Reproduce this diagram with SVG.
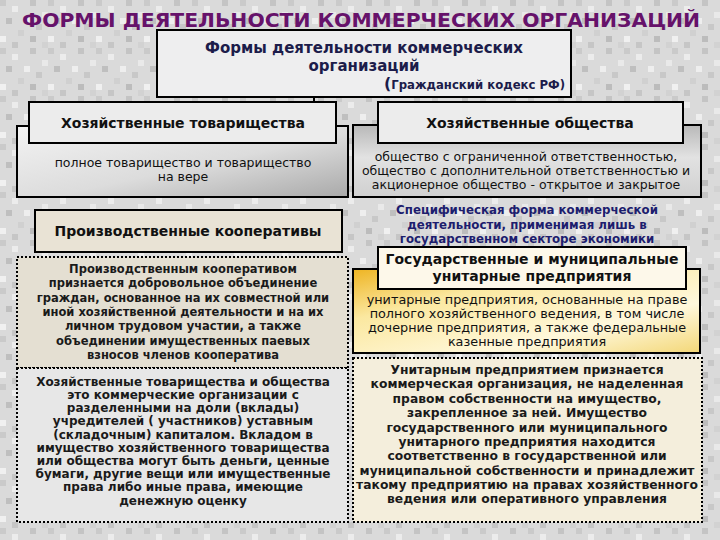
<svg xmlns="http://www.w3.org/2000/svg" width="720" height="540" viewBox="0 0 720 540">
<defs>
<pattern id="granite" x="0" y="0" width="48" height="48" patternUnits="userSpaceOnUse">
<rect width="48" height="48" fill="#dadada"/>
<rect x="0" y="0" width="6" height="6" fill="#cacaca"/>
<rect x="12" y="6" width="6" height="6" fill="#ececec"/>
<rect x="30" y="0" width="6" height="6" fill="#c4c4c4"/>
<rect x="42" y="12" width="6" height="6" fill="#e9e9e9"/>
<rect x="6" y="18" width="6" height="6" fill="#bfbfbf"/>
<rect x="24" y="18" width="6" height="6" fill="#eeeeee"/>
<rect x="36" y="24" width="6" height="6" fill="#c8c8c8"/>
<rect x="18" y="30" width="6" height="6" fill="#d0d0d0"/>
<rect x="0" y="36" width="6" height="6" fill="#f0f0f0"/>
<rect x="30" y="36" width="6" height="6" fill="#bcbcbc"/>
<rect x="42" y="42" width="6" height="6" fill="#d2d2d2"/>
<rect x="12" y="42" width="6" height="6" fill="#c6c6c6"/>
</pattern>
<linearGradient id="grayGrad" x1="0" y1="0" x2="1" y2="1">
<stop offset="0" stop-color="#f3f3f3"/>
<stop offset="0.55" stop-color="#dcdcdc"/>
<stop offset="1" stop-color="#a9a9a9"/>
</linearGradient>
<linearGradient id="grayGrad2" x1="0" y1="0" x2="0" y2="1">
<stop offset="0" stop-color="#b8b8b8"/>
<stop offset="0.45" stop-color="#e2e2e2"/>
<stop offset="1" stop-color="#d0d0d0"/>
</linearGradient>
<linearGradient id="yellowGrad" x1="0" y1="0" x2="1" y2="1">
<stop offset="0" stop-color="#eeb422"/>
<stop offset="0.3" stop-color="#fbe8a0"/>
<stop offset="0.7" stop-color="#fff8dc"/>
<stop offset="1" stop-color="#f3d777"/>
</linearGradient>
</defs>
<style>
.title{font-family:"DejaVu Sans",Verdana,sans-serif;font-weight:bold;font-size:20px;fill:#66126a;text-anchor:middle}
.hd{font-family:"DejaVu Sans",Verdana,sans-serif;font-weight:bold;font-size:14px;fill:#111;text-anchor:middle}
.top{font-family:"DejaVu Sans",Verdana,sans-serif;font-weight:bold;font-size:15px;fill:#1c1c4a;text-anchor:middle}
.tx{font-family:"DejaVu Sans",Verdana,sans-serif;font-weight:bold;font-size:11.5px;fill:#1a1a1a;text-anchor:middle}
.tx2{font-family:"DejaVu Sans",Verdana,sans-serif;font-weight:bold;font-size:12px;fill:#1a1a1a;text-anchor:middle}
.tx3{font-family:"DejaVu Sans",Verdana,sans-serif;font-weight:bold;font-size:12.3px;fill:#1a1a1a;text-anchor:middle}
.tn{font-family:"DejaVu Sans",Verdana,sans-serif;font-size:12.5px;fill:#111;text-anchor:middle}
.ty{font-family:"DejaVu Sans",Verdana,sans-serif;font-size:12.8px;fill:#111;text-anchor:middle}
.blue{font-family:"DejaVu Sans",Verdana,sans-serif;font-weight:bold;font-size:11.8px;fill:#1d1d6e;text-anchor:middle}
.box{stroke:#000;stroke-width:2}
.dot{stroke:#000;stroke-width:2;stroke-dasharray:2 2}
</style>
<rect width="720" height="540" fill="url(#granite)"/>
<text class="title" x="361" y="27" textLength="678" lengthAdjust="spacingAndGlyphs">ФОРМЫ  ДЕЯТЕЛЬНОСТИ  КОММЕРЧЕСКИХ  ОРГАНИЗАЦИЙ</text>
<g id="connectors">
<line x1="314" y1="97" x2="314" y2="102" stroke="#000" stroke-width="2"/>
</g>
<g id="root">
<rect class="box" x="157" y="30" width="414" height="67" fill="#eeeeef"/>
<text class="top" x="364" y="53">Формы деятельности коммерческих</text>
<text class="top" x="364" y="71">организаций</text>
<text x="565" y="89" font-family="DejaVu Sans,Verdana,sans-serif" font-weight="bold" font-size="11.7" fill="#1c1c4a" text-anchor="end"><tspan font-size="16">(</tspan>Гражданский кодекс РФ)</text>
</g>
<g id="partnerships">
<rect class="box" x="17" y="126" width="331" height="71" fill="url(#grayGrad)"/>
<rect class="box" x="29" y="102" width="307" height="41" fill="#ececec"/>
<text class="hd" x="183" y="128">Хозяйственные товарищества</text>
<text class="tn" x="183" y="167">полное товарищество и товарищество</text>
<text class="tn" x="183" y="181">на вере</text>
</g>
<g id="companies">
<rect class="box" x="353" y="125" width="348" height="72" fill="url(#grayGrad2)"/>
<rect class="box" x="378" y="102" width="305" height="41" fill="#ececec"/>
<text class="hd" x="530" y="128">Хозяйственные общества</text>
<text class="tn" x="526" y="161">общество с ограниченной ответственностью,</text>
<text class="tn" x="526" y="175">общество с дополнительной ответственностью и</text>
<text class="tn" x="526" y="189">акционерное общество - открытое и закрытое</text>
</g>
<g id="cooperatives">
<rect class="box" x="35" y="210" width="307" height="42" fill="#e9e3d5"/>
<text class="hd" x="188" y="236">Производственные кооперативы</text>
</g>
<g id="coop-def">
<rect class="dot" x="17" y="257" width="331" height="111" fill="#e4dfd2"/>
<text class="tx" x="183" y="273">Производственным кооперативом</text>
<text class="tx" x="183" y="287">признается добровольное объединение</text>
<text class="tx" x="183" y="302">граждан, основанное на их совместной или</text>
<text class="tx" x="183" y="316">иной хозяйственной деятельности и на их</text>
<text class="tx" x="183" y="330">личном трудовом участии, а также</text>
<text class="tx" x="183" y="345">объединении имущественных паевых</text>
<text class="tx" x="183" y="359">взносов членов кооператива</text>
</g>
<g id="partnership-def">
<rect class="dot" x="17" y="368" width="331" height="154" fill="#e7e7e7"/>
<text class="tx2" x="183" y="386">Хозяйственные товарищества и общества</text>
<text class="tx2" x="183" y="399">это коммерческие организации с</text>
<text class="tx2" x="183" y="412">разделенными на доли (вклады)</text>
<text class="tx2" x="183" y="425">учредителей ( участников) уставным</text>
<text class="tx2" x="183" y="439">(складочным) капиталом. Вкладом в</text>
<text class="tx2" x="183" y="452">имущество хозяйственного товарищества</text>
<text class="tx2" x="183" y="465">или общества могут быть деньги, ценные</text>
<text class="tx2" x="183" y="478">бумаги, другие вещи или имущественные</text>
<text class="tx2" x="183" y="491">права либо иные права, имеющие</text>
<text class="tx2" x="183" y="505">денежную оценку</text>
</g>
<g id="specific-note">
<text class="blue" x="527" y="214">Специфическая форма коммерческой</text>
<text class="blue" x="527" y="229">деятельности, применимая лишь в</text>
<text class="blue" x="527" y="243">государственном секторе экономики</text>
</g>
<g id="unitary">
<rect class="box" x="353" y="269" width="347" height="84" fill="url(#yellowGrad)"/>
<rect class="box" x="378" y="247" width="308" height="42" fill="#fdf8ea"/>
<text class="hd" x="532" y="264">Государственные и муниципальные</text>
<text class="hd" x="532" y="281">унитарные предприятия</text>
<text class="ty" x="527" y="304">унитарные предприятия, основанные на праве</text>
<text class="ty" x="527" y="318">полного хозяйственного ведения, в том числе</text>
<text class="ty" x="527" y="332">дочерние предприятия, а также федеральные</text>
<text class="ty" x="527" y="346">казенные предприятия</text>
</g>
<g id="unitary-def">
<rect class="dot" x="353" y="358" width="349" height="164" fill="#f4eedc"/>
<text class="tx3" x="527" y="374">Унитарным предприятием признается</text>
<text class="tx3" x="527" y="388">коммерческая организация, не наделенная</text>
<text class="tx3" x="527" y="403">правом собственности на имущество,</text>
<text class="tx3" x="527" y="417">закрепленное за ней. Имущество</text>
<text class="tx3" x="527" y="432">государственного или муниципального</text>
<text class="tx3" x="527" y="446">унитарного предприятия находится</text>
<text class="tx3" x="527" y="460">соответственно в государственной или</text>
<text class="tx3" x="527" y="475">муниципальной собственности и принадлежит</text>
<text class="tx3" x="527" y="489">такому предприятию на правах хозяйственного</text>
<text class="tx3" x="527" y="503">ведения или оперативного управления</text>
</g>
</svg>
